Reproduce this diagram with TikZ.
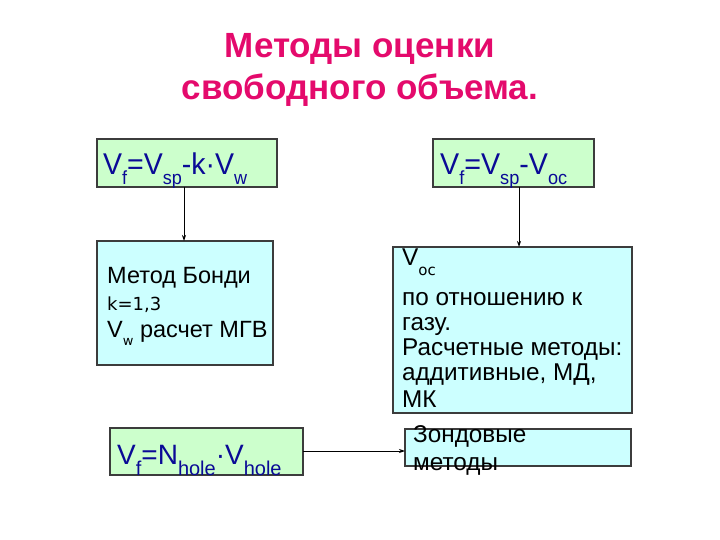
\documentclass[tikz,border=0pt]{standalone}
\usepackage{fontspec}
\setmainfont{Liberation Sans}
\newfontfamily\altfont{DejaVu Sans}
\usetikzlibrary{arrows.meta}
\definecolor{titlecol}{RGB}{228,10,108}
\definecolor{formcol}{RGB}{10,10,150}
\definecolor{greenfill}{RGB}{204,255,204}
\definecolor{cyanfill}{RGB}{204,255,255}
\definecolor{boxline}{RGB}{60,60,60}
\newcommand{\fsub}[1]{\raisebox{-10pt}{\fontsize{19}{19}\selectfont #1}}
\newcommand{\gsub}[1]{\raisebox{-11pt}{\fontsize{20}{20}\selectfont #1}}
\tikzset{
  greenbox/.style={draw=boxline, line width=1.2pt, fill=greenfill},
  cyanbox/.style={draw=boxline, line width=1.2pt, fill=cyanfill},
  formula/.style={anchor=base west, inner sep=0pt, text=formcol, font=\fontsize{30}{32}\selectfont},
  bodyline/.style={anchor=base west, inner sep=0pt, font=\fontsize{23.5}{26}\selectfont},
  bodyfour/.style={anchor=base west, inner sep=0pt, font=\fontsize{24.3}{26}\selectfont},
  titletext/.style={anchor=base, text=titlecol, inner sep=0pt, font=\fontsize{35}{38}\bfseries\selectfont},
  conn/.style={draw=black, line width=0.8pt, -{Stealth[length=6pt,width=4pt]}},
}
\begin{document}
\begin{tikzpicture}[x=1pt,y=-1pt]
\useasboundingbox (0,0) rectangle (720,540);
% title
\node[titletext] (t1) at (360,58) {Методы оценки};
\node[titletext] (t2) at (360,100) {свободного объема.};
% top formula boxes
\draw[greenbox] (97,139) rectangle (277,187);
\node[formula] (f1) at (103,175) {\scalebox{0.95}[1]{V\fsub{f}=V\fsub{sp}-k·V\fsub{w}}};
\coordinate (b1) at (184,187);
\draw[greenbox] (433,139) rectangle (594,187);
\node[formula] (f2) at (440,175) {\scalebox{0.955}[1]{V\fsub{f}=V\fsub{sp}-V\fsub{oc}}};
\coordinate (b2) at (519,187);

% Bondi box
\draw[cyanbox] (97,241) rectangle (273,365);
\coordinate (c1) at (184,241);
\node[bodyline] (m1a) at (107,283) {Метод Бонди};
\node[bodyline, font=\altfont\fontsize{18}{20}\selectfont] (m1b) at (107,310) {k=1,3};
\node[bodyline] (m1c) at (107,337) {V\raisebox{-8pt}{\altfont\fontsize{13}{13}\selectfont w} расчет МГВ};

% Voc box
\draw[cyanbox] (393,247) rectangle (632,413);
\coordinate (c2) at (519,247);
\node[bodyfour] (m2a) at (402,265) {V\raisebox{-10pt}{\altfont\fontsize{15}{15}\selectfont oc}};
\node[bodyfour] (m2b) at (402,305) {по отношению к};
\node[bodyfour] (m2c) at (402,330) {газу.};
\node[bodyfour] (m2d) at (402,355) {Расчетные методы:};
\node[bodyfour] (m2e) at (402,380) {аддитивные, МД,};
\node[bodyfour] (m2f) at (402,407) {МК};

% hole box
\draw[greenbox] (110,428) rectangle (303,475);
\node[formula, font=\fontsize{28}{30}\selectfont] (f3) at (117,464) {V\gsub{f}=N\gsub{hole}·V\gsub{hole}};
\coordinate (g5) at (303,451);

% probe box
\draw[cyanbox] (405,429) rectangle (631,466);
\coordinate (g6) at (405,451);
\node[bodyfour] (m3a) at (413,442) {Зондовые};
\node[bodyfour] (m3b) at (413,470) {методы};

% connectors
\draw[conn] (b1) -- (c1);
\draw[conn] (b2) -- (c2);
\draw[conn] (g5) -- (g6);
\end{tikzpicture}
\end{document}
